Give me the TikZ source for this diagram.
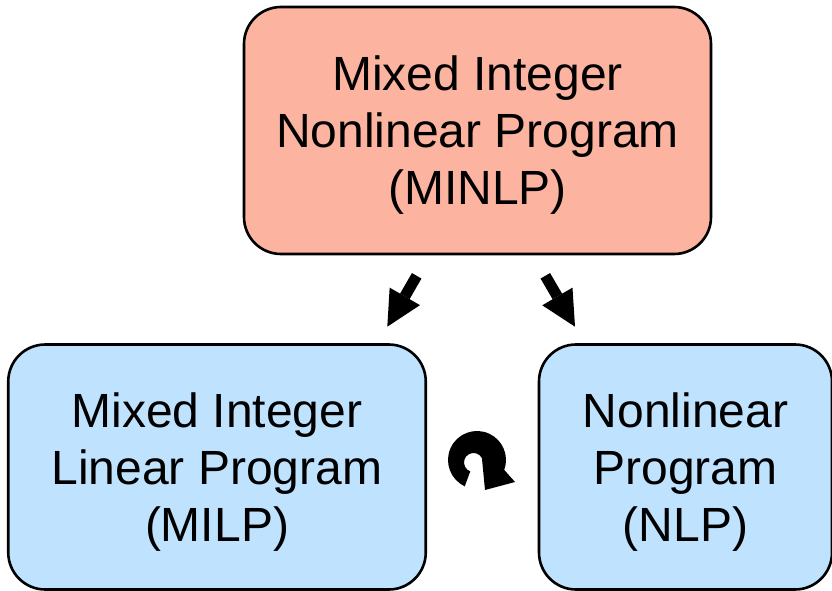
\documentclass[tikz,border=0pt]{standalone}
\usepackage{fontspec}
\setmainfont{Liberation Sans}
\usetikzlibrary{arrows.meta}
\definecolor{minlpfill}{RGB}{252,179,160}
\definecolor{subfill}{RGB}{191,227,254}
\begin{document}
\begin{tikzpicture}[x=1pt,y=-1pt,
  box/.style={draw=black, line width=2.6pt, rounded corners=37pt,
    align=center, inner sep=0pt, text depth=-2pt,
    font=\fontsize{48}{57}\selectfont},
  blockarrow/.style={line width=11pt,
    -{Triangle[length=35pt,width=35pt,line width=0pt]}}]
\useasboundingbox (0,0) rectangle (832,591);

% problem classes
\node[box, fill=minlpfill, minimum width=467pt, minimum height=247pt]
  (minlp) at (477.5,130.5) {Mixed Integer\\Nonlinear Program\\(MINLP)};
\node[box, fill=subfill, minimum width=417.5pt, minimum height=245pt]
  (milp) at (217,467) {Mixed Integer\\Linear Program\\(MILP)};
\node[box, fill=subfill, minimum width=293pt, minimum height=245pt]
  (nlp) at (685.5,467) {Nonlinear\\Program\\(NLP)};

% block arrows from MINLP down to its sub-problems
\coordinate (lefttail) at (416.7,275.8);
\coordinate (lefttip) at (387.3,326.7);
\coordinate (righttail) at (545.3,275.8);
\coordinate (righttip) at (575,326.7);
\draw[blockarrow] (lefttail) -- (lefttip);
\draw[blockarrow] (righttail) -- (righttip);

% circular arrow between MILP and NLP
\fill (477,460) ++(115:29) arc[start angle=115, end angle=380, radius=29]
  -- (515,482) -- (485,490) -- (481.9,458.0)
  arc[start angle=332, end angle=110, radius=9.5] -- cycle;
\end{tikzpicture}
\end{document}
